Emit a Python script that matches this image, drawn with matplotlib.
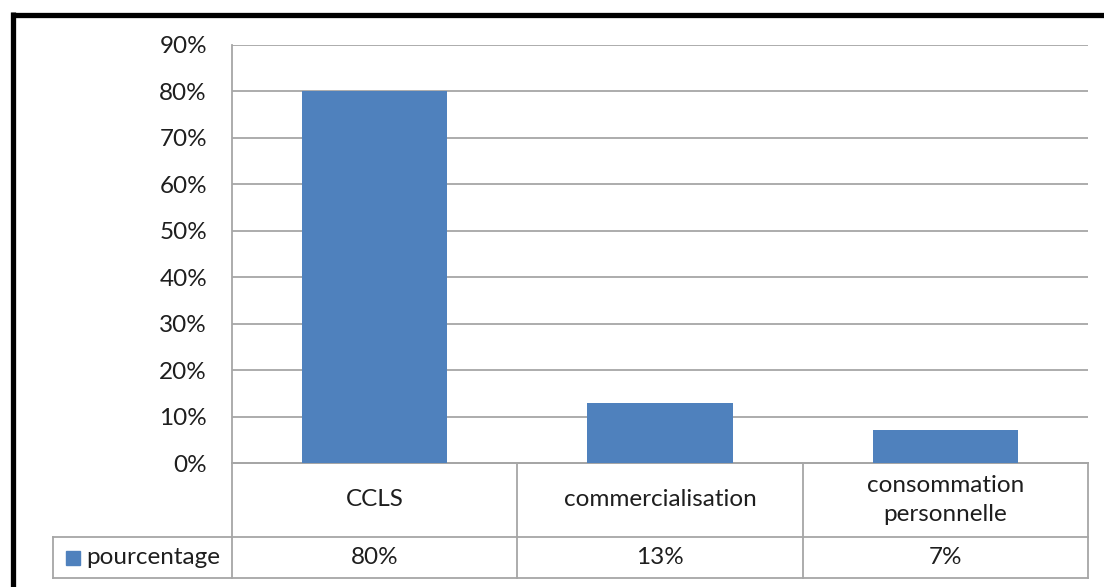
import matplotlib
matplotlib.use("Agg")
import matplotlib.pyplot as plt
from matplotlib.patches import Rectangle
from matplotlib.lines import Line2D

# data
categories = ["CCLS", "commercialisation", "consommation\npersonnelle"]
values = [80, 13, 7]
value_labels = ["80%", "13%", "7%"]
series_name = "pourcentage"
yticks = [0, 10, 20, 30, 40, 50, 60, 70, 80, 90]

W, H = 1104, 587
bar_color = "#4F81BD"
grid_color = "#A6A6A6"
text_color = "#1E1E1E"
fs = 17.5

plt.rcParams["font.family"] = ["Lato", "DejaVu Sans"]

fig = plt.figure(figsize=(W / 100, H / 100), dpi=100)

# plot area in pixel coordinates
left, right, top, bottom = 232, 1088, 45, 463
ax = fig.add_axes([left / W, 1 - bottom / H, (right - left) / W, (bottom - top) / H])

x = list(range(len(categories)))
ax.bar(x, values, width=0.51, color=bar_color, zorder=3)
ax.set_xlim(-0.5, len(categories) - 0.5)
ax.set_ylim(0, 90)
ax.set_yticks(yticks)
ax.set_yticklabels([f"{t}%" for t in yticks], fontsize=fs, color=text_color)
ax.tick_params(axis="y", length=0, pad=18)
ax.tick_params(axis="x", length=0, labelbottom=False)
ax.yaxis.grid(True, color=grid_color, lw=1.3, zorder=0)
for s in ["top", "right"]:
    ax.spines[s].set_visible(False)
ax.spines["left"].set_color(grid_color)
ax.spines["left"].set_linewidth(1.3)
ax.spines["bottom"].set_color(grid_color)
ax.spines["bottom"].set_linewidth(1.3)

# data table below the axis
row1 = (bottom - 537) / (bottom - top)
row2 = (bottom - 578) / (bottom - top)
legend_left = -0.5 + (53 - left) / (right - left) * len(categories)
tr = ax.get_xaxis_transform()
lk = dict(color=grid_color, lw=1.3, clip_on=False, transform=tr)
ax.plot([-0.5, len(categories) - 0.5], [0, 0], **lk)
ax.plot([legend_left, len(categories) - 0.5], [row1, row1], **lk)
ax.plot([legend_left, len(categories) - 0.5], [row2, row2], **lk)
ax.plot([legend_left, legend_left], [row1, row2], **lk)
for b in range(len(categories) + 1):
    ax.plot([b - 0.5, b - 0.5], [0, row2], **lk)

for i, (c, v) in enumerate(zip(categories, value_labels)):
    ax.text(i, row1 / 2, c, transform=tr, ha="center", va="center",
            fontsize=fs, color=text_color, linespacing=1.45)
    ax.text(i, (row1 + row2) / 2, v, transform=tr, ha="center", va="center",
            fontsize=fs, color=text_color)

# legend key inside the table
fig.add_artist(Rectangle((66 / W, 1 - 565 / H), 14 / W, 14 / H,
                         transform=fig.transFigure, color=bar_color))
fig.text(86 / W, 1 - 557 / H, series_name, ha="left", va="center",
         fontsize=fs, color=text_color)

# thick black frame (left and top visible)
fig.add_artist(Line2D([12.5 / W, 12.5 / W], [0, 1 - 12 / H], color="black",
                      lw=3.8, transform=fig.transFigure, solid_capstyle="butt"))
fig.add_artist(Line2D([10.5 / W, 1], [1 - 14.5 / H, 1 - 14.5 / H], color="black",
                      lw=3.8, transform=fig.transFigure, solid_capstyle="butt"))

fig.savefig("out.png", dpi=100)
